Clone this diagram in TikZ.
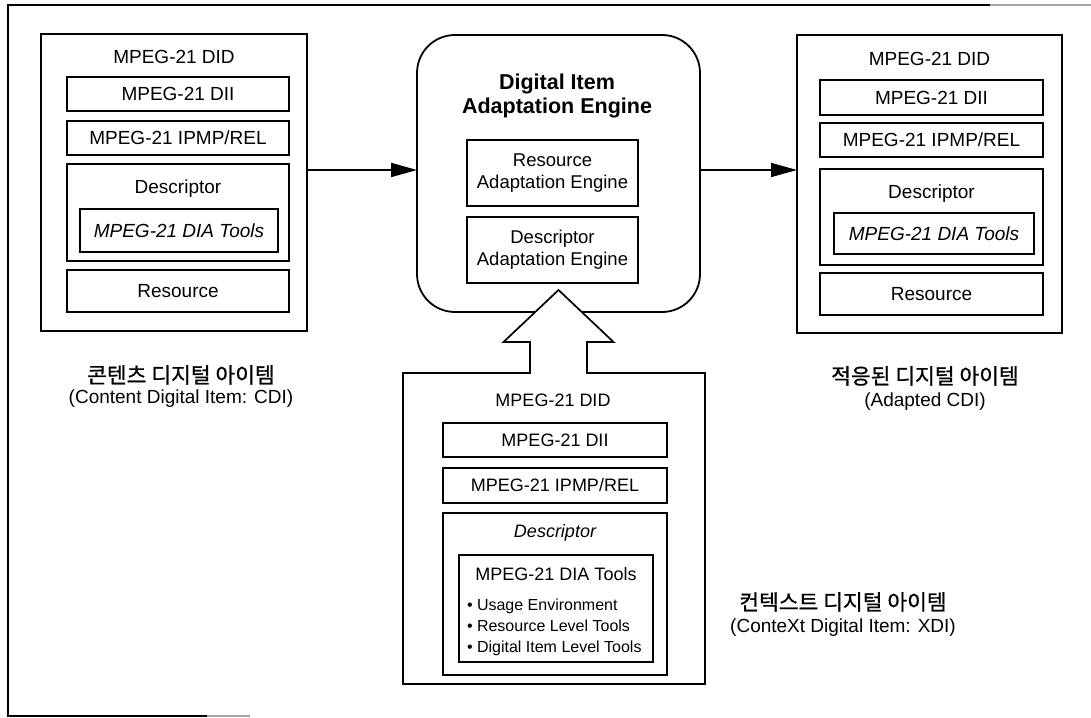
\documentclass[tikz,border=0pt]{standalone}
\usepackage{fontspec}
\setmainfont{Liberation Sans}
\newfontfamily\krfont[FakeBold=0.8]{Noto Sans CJK KR}
\usetikzlibrary{arrows.meta,calc}

\begin{document}
\begin{tikzpicture}[x=1pt,y=-1pt,
  every node/.style={inner sep=0pt, outer sep=0pt},
  frameline/.style={line width=1.6pt},
  shell/.style={draw, line width=1.8pt},
  box/.style={draw, line width=1.7pt, font=\fontsize{19}{22}\selectfont,
              text height=13.6pt, text depth=0pt},
  smallbox/.style={draw, line width=1.6pt, font=\fontsize{18}{21}\selectfont,
              text height=12.9pt, text depth=0pt},
  lbl/.style={anchor=base, font=\fontsize{19}{22}\selectfont},
  smalllbl/.style={anchor=base, font=\fontsize{18}{21}\selectfont},
  bullet/.style={anchor=base west, font=\fontsize{16}{19}\selectfont},
  krlbl/.style={anchor=base, font=\fontsize{21.5}{24}\krfont},
  flow/.style={line width=1.7pt, -{Triangle[length=26pt,width=14pt]}},
  hollow/.style={line width=1.7pt, line join=miter}]

\useasboundingbox (0,0) rectangle (1091,717);

% page frame
\draw[frameline] (990,5) -- (8,5) -- (8,716) -- (207,716);
\draw[frameline, gray!70] (990,5) -- (1091,5);
\draw[frameline, gray!70] (207,716) -- (250,716);

% ---------- content digital item ----------
\node[shell, minimum width=266pt, minimum height=297pt] (cdi) at (174,182.5) {};
\node[lbl] (cdi-did) at (174,63.5) {MPEG-21 DID};
\node[box, minimum width=222pt, minimum height=34pt] (cdi-dii) at (178,94) {MPEG-21 DII};
\node[box, minimum width=222pt, minimum height=34pt] (cdi-ipmp) at (178,138) {MPEG-21 IPMP/REL};
\node[box, minimum width=222pt, minimum height=97pt] (cdi-desc) at (178,212.5) {};
\node[lbl] (cdi-desc-t) at (178,193) {Descriptor};
\node[box, minimum width=198pt, minimum height=43pt, font=\fontsize{19}{22}\selectfont\itshape] (cdi-dia) at (179,230.5) {MPEG-21 DIA Tools};
\node[box, minimum width=222pt, minimum height=42pt] (cdi-res) at (178,291) {Resource};
\node[krlbl] (cdi-kr) at (181,383) {콘텐츠 디지털 아이템};
\node[lbl] (cdi-en) at (181,403) {(Content Digital Item: CDI)};

% ---------- adaptation engine ----------
\node[shell, rounded corners=38pt, minimum width=283pt, minimum height=277pt] (engine) at (558.5,173.5) {};
% multi-line labels: the base anchor sits on the last line
\node[anchor=base, align=center, font=\fontsize{21.5}{24}\selectfont\bfseries] (engine-t) at (557,113.5)
  {Digital Item\\Adaptation Engine};
\node[box, minimum width=171pt, minimum height=66pt] (rae) at (552.5,173) {};
\node[lbl, align=center, font=\fontsize{18.5}{21.5}\selectfont] (rae-t) at (552.5,188) {Resource\\Adaptation Engine};
\node[box, minimum width=171pt, minimum height=66pt] (dae) at (552.5,250) {};
\node[lbl, align=center, font=\fontsize{18.5}{21.5}\selectfont] (dae-t) at (552.5,265) {Descriptor\\Adaptation Engine};

% ---------- adapted digital item ----------
\node[shell, minimum width=265pt, minimum height=298pt] (acdi) at (929.5,184) {};
\node[lbl] (acdi-did) at (929.5,65) {MPEG-21 DID};
\node[box, minimum width=223pt, minimum height=35pt] (acdi-dii) at (931.5,97.5) {MPEG-21 DII};
\node[box, minimum width=223pt, minimum height=34pt] (acdi-ipmp) at (931.5,140) {MPEG-21 IPMP/REL};
\node[box, minimum width=223pt, minimum height=96pt] (acdi-desc) at (931.5,217) {};
\node[lbl] (acdi-desc-t) at (931.5,198) {Descriptor};
\node[box, minimum width=200pt, minimum height=41pt, font=\fontsize{19}{22}\selectfont\itshape] (acdi-dia) at (934,233.5) {MPEG-21 DIA Tools};
\node[box, minimum width=223pt, minimum height=42pt] (acdi-res) at (931.5,294) {Resource};
\node[krlbl] (acdi-kr) at (925,384) {적응된 디지털 아이템};
\node[lbl] (acdi-en) at (925,406) {(Adapted CDI)};

% ---------- context digital item ----------
\node[shell, minimum width=302pt, minimum height=311pt] (xdi) at (554,528.5) {};
\node[smalllbl] (xdi-did) at (553,406.5) {MPEG-21 DID};
\node[smallbox, minimum width=224pt, minimum height=34pt] (xdi-dii) at (555,440) {MPEG-21 DII};
\node[smallbox, minimum width=224pt, minimum height=35pt] (xdi-ipmp) at (555,485.5) {MPEG-21 IPMP/REL};
\node[smallbox, minimum width=224pt, minimum height=162pt] (xdi-desc) at (555,594) {};
\node[smalllbl, font=\fontsize{18}{21}\selectfont\itshape] (xdi-desc-t) at (555,537) {Descriptor};
\node[smallbox, minimum width=194pt, minimum height=107pt, line width=1.3pt] (xdi-dia) at (556,608.5) {};
\node[smalllbl] (xdi-dia-t) at (556,580) {MPEG-21 DIA Tools};
\node[bullet] (xdi-b1) at (467,610) {• Usage Environment};
\node[bullet] (xdi-b2) at (467,631) {• Resource Level Tools};
\node[bullet] (xdi-b3) at (467,652) {• Digital Item Level Tools};
\node[krlbl] (xdi-kr) at (843,610) {컨텍스트 디지털 아이템};
\node[lbl] (xdi-en) at (843,632) {(ConteXt Digital Item: XDI)};

% ---------- connectors ----------
\coordinate (flowrow) at (0,170);
\draw[flow] (cdi.east |- flowrow) -- (engine.west |- flowrow);
\draw[flow] (engine.east |- flowrow) -- (acdi.west |- flowrow);

% hollow block arrow from the context item into the engine
\coordinate (tip) at ([yshift=22pt]engine.south);
\coordinate (foot) at (xdi.north -| tip);
\fill[white] ($(foot)+(-28.5,1.6)$) -- ($(foot)+(-28.5,-31)$) -- ($(foot)+(-55,-31)$)
  -- (tip) -- ($(foot)+(55,-31)$) -- ($(foot)+(28.5,-31)$) -- ($(foot)+(28.5,1.6)$) -- cycle;
\draw[hollow] ($(foot)+(-28.5,0.9)$) -- ($(foot)+(-28.5,-31)$) -- ($(foot)+(-55,-31)$)
  -- (tip) -- ($(foot)+(55,-31)$) -- ($(foot)+(28.5,-31)$) -- ($(foot)+(28.5,0.9)$);

\end{tikzpicture}
\end{document}
